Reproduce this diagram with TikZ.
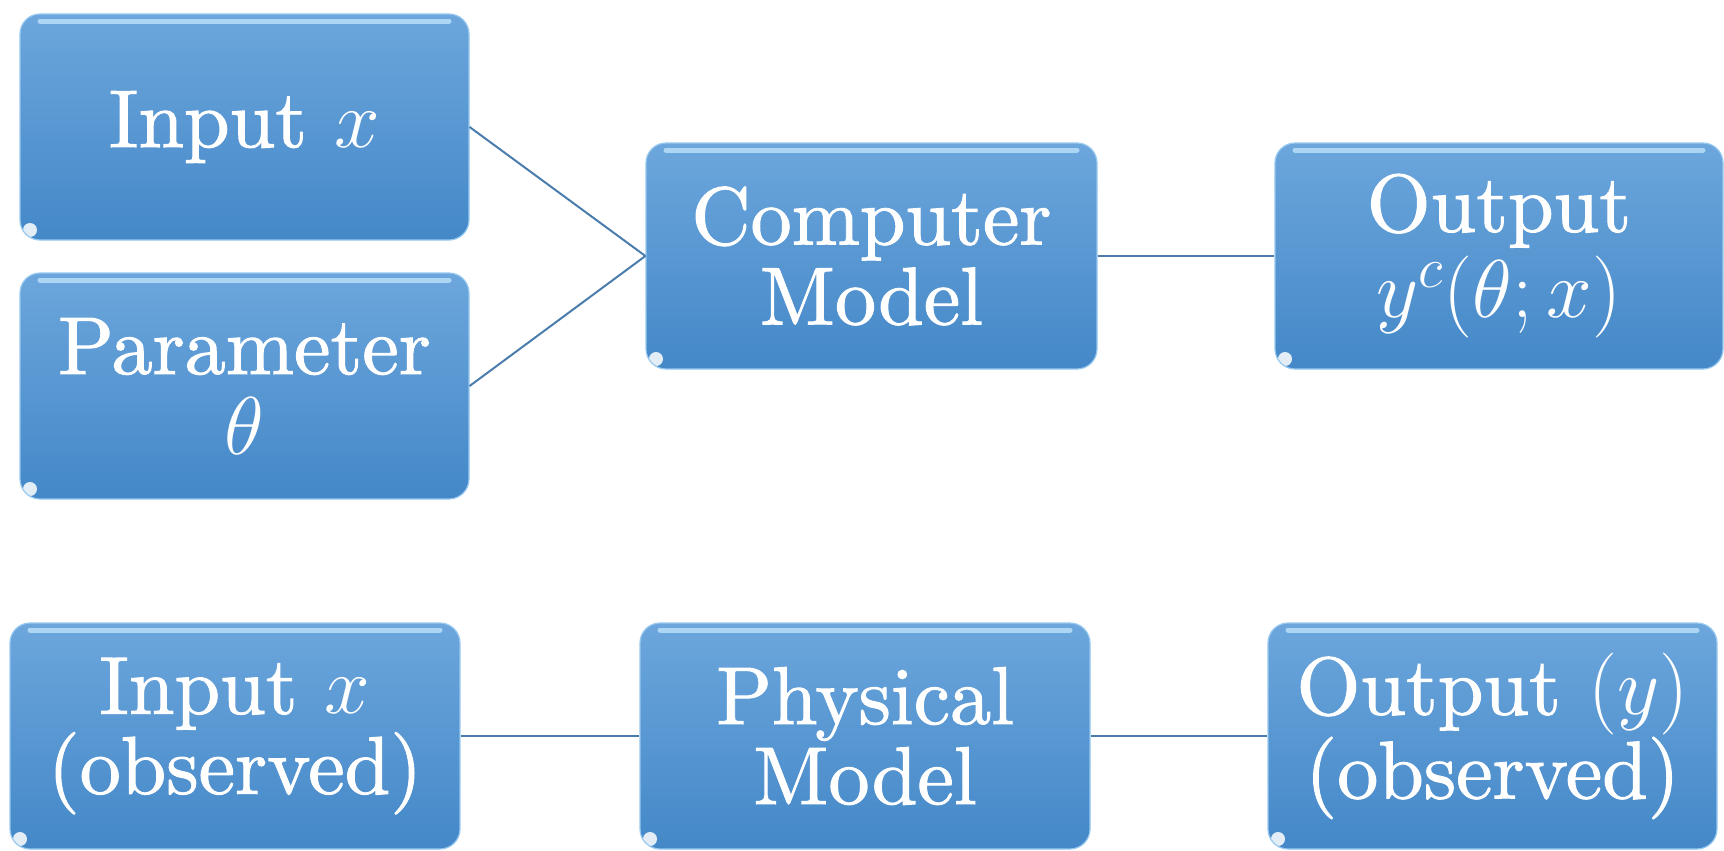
\RequirePackage{fix-cm}
\documentclass[tikz,border=0pt]{standalone}
\usepackage{fontspec}
\setmainfont{lmroman10-regular.otf}[ItalicFont=lmroman10-italic.otf, BoldFont=lmroman10-regular.otf, BoldFeatures={FakeBold=1.2}]
\usetikzlibrary{calc}
\definecolor{boxtop}{RGB}{108,166,220}
\definecolor{boxbot}{RGB}{68,136,200}
\definecolor{rim}{RGB}{150,200,240}
\definecolor{gloss}{RGB}{200,235,255}
\definecolor{wire}{RGB}{74,124,172}
\tikzset{
  blk/.style={rounded corners=10pt, top color=boxtop, bottom color=boxbot,
    draw=rim, line width=0.6pt, text=white, align=center, inner sep=0pt,
    font=\fontsize{41}{40}\selectfont\bfseries,
    path picture={
      \draw[gloss, line width=2.5pt, line cap=round, opacity=0.7]
        ($(path picture bounding box.north west)+(10pt,-3.5pt)$) --
        ($(path picture bounding box.north east)+(-10pt,-3.5pt)$);
      \fill[white, opacity=0.85]
        ($(path picture bounding box.south west)+(5pt,5pt)$) circle (3.5pt);
    }},
  wide/.style={minimum width=#1*0.5pt, minimum height=113pt},
  wireline/.style={draw=wire, line width=1pt}
}
\begin{document}
\begin{tikzpicture}[x=0.5pt,y=-0.5pt]
\useasboundingbox (0,0) rectangle (1724,851);
\node[blk, wide=449] (inx) at (244.5,127) {Input $x$};
\node[blk, wide=449] (param) at (244.5,386) {Parameter\\$\theta$};
\node[blk, wide=451] (comp) at (871.5,256) {Computer\\Model};
\node[blk, wide=448] (outc) at (1499,256) {Output\\[3pt]$y^{c}(\theta;x)$};
\node[blk, wide=450] (inobs) at (235,736) {Input $x$\\(observed)};
\node[blk, wide=450] (phys) at (865,736) {Physical\\Model};
\node[blk, wide=449] (outobs) at (1492.5,736) {Output $(y)$\\(observed)};
\draw[wireline] (inx.east) -- (comp.west);
\draw[wireline] (param.east) -- (comp.west);
\draw[wireline] (comp.east) -- (outc.west);
\draw[wireline] (inobs.east) -- (phys.west);
\draw[wireline] (phys.east) -- (outobs.west);
\end{tikzpicture}
\end{document}
